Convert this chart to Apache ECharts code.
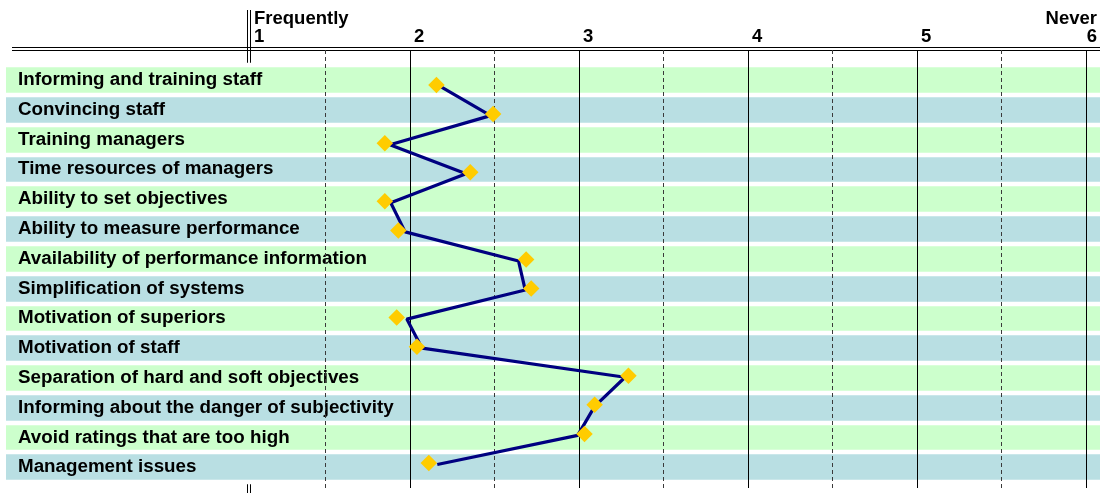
<!DOCTYPE html>
<html>
<head>
<meta charset="utf-8">
<title>Obstacles – frequency ratings</title>
<script src="https://cdn.jsdelivr.net/npm/echarts@6/dist/echarts.min.js"></script>
<style>
  html, body { margin: 0; padding: 0; background: #fff; }
  #chart { width: 1100px; height: 493px; }
</style>
</head>
<body>
<div id="chart"></div>
<script>
// Rows, top to bottom
const categories = [
  'Informing and training staff',
  'Convincing staff',
  'Training managers',
  'Time resources of managers',
  'Ability to set objectives',
  'Ability to measure performance',
  'Availability of performance information',
  'Simplification of systems',
  'Motivation of superiors',
  'Motivation of staff',
  'Separation of hard and soft objectives',
  'Informing about the danger of subjectivity',
  'Avoid ratings that are too high',
  'Management issues'
];

// Profile line (navy)
const lineValues = [2.18, 2.475, 1.88, 2.33, 1.885, 1.97, 2.64, 2.68, 1.98, 2.07, 3.27, 3.09, 2.99, 2.16];

// Diamond markers (yellow)
const markerValues = [2.155, 2.49, 1.85, 2.355, 1.85, 1.93, 2.685, 2.715, 1.92, 2.04, 3.29, 3.09, 3.03, 2.11];

// Scale 1..6 with end captions
const scaleMin = 1;
const scaleMax = 6;
const scaleEndCaptions = { 1: 'Frequently', 6: 'Never' };

const FONT = '"Liberation Sans", Arial, sans-serif';

const chart = echarts.init(document.getElementById('chart'), null, { renderer: 'canvas' });

chart.setOption({
  animation: false,
  backgroundColor: '#ffffff',
  grid: [
    // 0: row bands + row captions
    { left: 6, right: 0, top: 65, bottom: 11 },
    // 1: data
    { left: 241, right: 13, top: 72, bottom: 14 },
    // 2: scale labels + grid lines
    { left: 241, right: 13, top: 50, bottom: 5 }
  ],
  xAxis: [
    { gridIndex: 0, type: 'value', min: 0, max: 1, show: false },
    { gridIndex: 1, type: 'value', min: scaleMin, max: scaleMax, interval: 1, show: false },
    {
      gridIndex: 2, type: 'value', position: 'top',
      min: scaleMin, max: scaleMax, interval: 1, z: 2,
      axisLine: { show: false },
      axisTick: { show: false },
      minorTick: { show: false, splitNumber: 2 },
      splitLine: {
        show: true,
        lineStyle: { color: ['transparent', '#000', '#000', '#000', '#000', '#000'], width: 1 }
      },
      minorSplitLine: {
        show: true,
        lineStyle: { color: '#3a3a3a', width: 1, type: [4, 3] }
      },
      axisLabel: {
        show: true, inside: false, margin: 4, align: 'left', verticalAlign: 'bottom',
        formatter: function (v) {
          if (v === scaleMin) return '{a|' + scaleEndCaptions[v] + '}\n{a|' + v + '}';
          if (v === scaleMax) return '{b|' + scaleEndCaptions[v] + '}\n{b|' + v + '}';
          return '{n|' + v + '}';
        },
        rich: {
          a: { fontFamily: FONT, fontWeight: 'bold', fontSize: 18.5, lineHeight: 18, color: '#000', padding: [0, 0, 0, 13] },
          b: { fontFamily: FONT, fontWeight: 'bold', fontSize: 18.5, lineHeight: 18, color: '#000', align: 'right', width: 11 },
          n: { fontFamily: FONT, fontWeight: 'bold', fontSize: 18.5, lineHeight: 18, color: '#000', padding: [0, 0, 0, 4] }
        }
      }
    }
  ],
  yAxis: [
    {
      gridIndex: 0, type: 'category', data: categories, inverse: true, z: 1,
      axisLine: { show: false },
      axisTick: { show: false },
      axisLabel: {
        inside: true, margin: 12, padding: [3, 0, 0, 0],
        fontFamily: FONT, fontWeight: 'bold', fontSize: 18.8, color: '#000'
      },
      splitArea: { show: true, areaStyle: { color: ['#ccffcc', '#b9dfe3'] } },
      splitLine: { show: true, lineStyle: { color: '#ffffff', width: 4.3 } }
    },
    { gridIndex: 1, type: 'category', data: categories, inverse: true, show: false },
    { gridIndex: 2, type: 'value', min: 0, max: 1, show: false }
  ],
  series: [
    {
      type: 'line', xAxisIndex: 1, yAxisIndex: 1, z: 3,
      data: lineValues,
      showSymbol: false, symbol: 'none',
      lineStyle: { color: '#000080', width: 3.2 }
    },
    {
      type: 'scatter', xAxisIndex: 1, yAxisIndex: 1, z: 4,
      data: markerValues,
      symbol: 'diamond', symbolSize: 16.5, symbolOffset: [0, -1.5],
      itemStyle: { color: '#ffcc00', opacity: 1 }
    }
  ],
  graphic: [
    // double rule under the scale labels
    { type: 'line', z: 0, shape: { x1: 12, y1: 47.5, x2: 1100, y2: 47.5 }, style: { stroke: '#000', lineWidth: 1 } },
    { type: 'line', z: 0, shape: { x1: 12, y1: 50.5, x2: 1100, y2: 50.5 }, style: { stroke: '#000', lineWidth: 1 } },
    // double rule separating captions from the plot
    { type: 'line', z: 0, shape: { x1: 247.5, y1: 10, x2: 247.5, y2: 493 }, style: { stroke: '#000', lineWidth: 1 } },
    { type: 'line', z: 0, shape: { x1: 250.5, y1: 10, x2: 250.5, y2: 493 }, style: { stroke: '#000', lineWidth: 1 } }
  ]
});
</script>
</body>
</html>
